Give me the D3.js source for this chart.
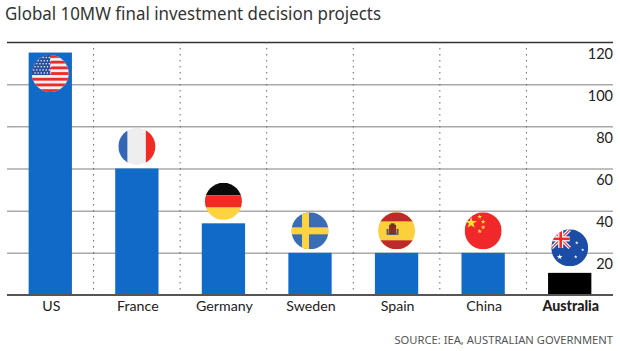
<!DOCTYPE html>
<html>
<head>
<meta charset="utf-8">
<script src="https://cdn.jsdelivr.net/npm/d3@7"></script>
<style>
  html, body { margin: 0; padding: 0; background: #fff; }
  svg { display: block; font-family: "Noto Sans", sans-serif; }
</style>
</head>
<body>
<div class="canvas"></div>
<script>
// chart values
const categories = ["US", "France", "Germany", "Sweden", "Spain", "China", "Australia"];
const values = [115, 60, 34, 20, 20, 20, 10.5];
const yTicks = [20, 40, 60, 80, 100, 120];
const flagNames = ["us", "fr", "de", "se", "es", "cn", "au"];

const width = 620, height = 351;
const margin = {top: 42, right: 613, bottom: 295, left: 7};

const svg = d3.select(".canvas").append("svg")
    .attr("width", width)
    .attr("height", height);

const x = d3.scaleBand()
    .domain(categories)
    .range([margin.left, margin.right])
    .paddingInner(0.5)
    .paddingOuter(0.25);
const y = d3.scaleLinear().domain([0, 120]).range([margin.bottom, margin.top]);

// title
svg.append("text")
    .attr("x", 5).attr("y", 20)
    .attr("font-size", 18.6)
    .attr("fill", "#333")
    .attr("textLength", 376)
    .attr("lengthAdjust", "spacingAndGlyphs")
    .text("Global 10MW final investment decision projects");

// horizontal grid + labels
const yAxis = svg.append("g")
    .attr("transform", `translate(${margin.right},0)`)
    .call(d3.axisLeft(y).tickValues(yTicks).tickSize(margin.right - margin.left));
yAxis.select(".domain").remove();
yAxis.selectAll("line")
    .attr("stroke", d => d === 120 ? "#333" : "#aaa")
    .attr("stroke-width", 1.5);
yAxis.selectAll("text")
    .attr("x", 0)
    .attr("dy", 16)
    .attr("text-anchor", "end")
    .attr("font-family", "Lato, sans-serif")
    .attr("font-size", 14.5)
    .attr("fill", "#222");

// dotted separators between the columns
const step = x.step();
svg.selectAll(".sep")
    .data(categories.slice(1))
    .enter()
    .append("line")
    .attr("class", "sep")
    .attr("x1", d => x(d) - step * 0.25)
    .attr("x2", d => x(d) - step * 0.25)
    .attr("y1", margin.top)
    .attr("y2", margin.bottom)
    .attr("stroke", "#666")
    .attr("stroke-width", 1)
    .attr("stroke-dasharray", "1.5,4.5");

// bars
svg.selectAll(".bar")
    .data(categories)
    .enter()
    .append("rect")
    .attr("class", "bar")
    .attr("x", d => x(d))
    .attr("width", x.bandwidth())
    .attr("y", (d, i) => y(values[i]))
    .attr("height", (d, i) => y(0) - y(values[i]))
    .attr("fill", d => d === "Australia" ? "#000" : "#116ac7");

// x axis
const xAxis = svg.append("g")
    .attr("transform", `translate(0,${margin.bottom})`)
    .call(d3.axisBottom(x).tickSize(0).tickPadding(6));
xAxis.select(".domain")
    .attr("d", `M${margin.left},0H${margin.right}`)
    .attr("stroke", "#555")
    .attr("stroke-width", 2);
xAxis.selectAll("text")
    .attr("dx", 1)
    .attr("font-family", "Lato, sans-serif")
    .attr("font-size", 14.2)
    .attr("fill", "#222")
    .attr("font-weight", d => d === "Australia" ? "900" : "normal");

// source
svg.append("text")
    .attr("x", margin.right).attr("y", 344)
    .attr("text-anchor", "end")
    .attr("font-size", 11.2)
    .attr("fill", "#555")
    .text("SOURCE: IEA, AUSTRALIAN GOVERNMENT");

// flags
const R = 18.5;
const defs = svg.append("defs");
defs.append("clipPath").attr("id", "disc")
    .append("circle").attr("r", R);

const star = (g, cx, cy, area, fill) => g.append("path")
    .attr("d", d3.symbol(d3.symbolStar, area))
    .attr("transform", `translate(${cx},${cy})`)
    .attr("fill", fill);
const band = (g, x0, y0, w, h, fill) => g.append("rect")
    .attr("x", x0).attr("y", y0).attr("width", w).attr("height", h).attr("fill", fill);

const drawFlag = {
  us(g) {
    band(g, -R, -R, 2 * R, 2 * R, "#f0f0f0");
    d3.range(0, 13, 2).forEach(i => band(g, -R, -R + i * 2 * R / 13, 2 * R, 2 * R / 13, "#ee2b2b"));
    band(g, -R, -R, R, 20, "#2a4f9c");
    d3.range(6).forEach(r => d3.range(6).forEach(c =>
      g.append("circle").attr("cx", -R + 2 + c * 3.1 + (r % 2) * 1.2).attr("cy", -R + 2.5 + r * 3.1)
        .attr("r", 0.75).attr("fill", "#fff")));
  },
  fr(g) {
    band(g, -R, -R, 2 * R, 2 * R, "#eeeeee");
    band(g, -R, -R, 9, 2 * R, "#3366b4");
    band(g, 9, -R, 10, 2 * R, "#f22a24");
  },
  de(g) {
    band(g, -R, -R, 2 * R, 12.5, "#0a0a0a");
    band(g, -R, -6, 2 * R, 12.5, "#f22a24");
    band(g, -R, 6, 2 * R, 13, "#fed340");
  },
  se(g) {
    band(g, -R, -R, 2 * R, 2 * R, "#3a6db5");
    band(g, -R, -3.5, 2 * R, 7, "#fed340");
    band(g, -8, -R, 7, 2 * R, "#fed340");
  },
  es(g) {
    band(g, -R, -R, 2 * R, 2 * R, "#fbd03c");
    band(g, -R, -R, 2 * R, 9, "#be2a2c");
    band(g, -R, 9.5, 2 * R, 9, "#be2a2c");
    band(g, -7.5, -6, 7, 9, "#8f2a24");
    band(g, -6, -7.5, 4, 3, "#5a3a20");
    band(g, -10, -2, 2, 6, "#5b5b5b");
    band(g, 0, -2, 2, 6, "#5b5b5b");
    band(g, -8, 2, 8, 2, "#2f4a80");
  },
  cn(g) {
    band(g, -R, -R, 2 * R, 2 * R, "#f0282a");
    star(g, -12, -8, 42, "#fde03a");
    star(g, -3.5, -14, 7, "#fde03a");
    star(g, 0, -9, 7, "#fde03a");
    star(g, 0, -3.5, 7, "#fde03a");
    star(g, -3.5, 0.5, 7, "#fde03a");
  },
  au(g) {
    band(g, -R, -R, 2 * R, 2 * R, "#1c4da6");
    g.append("path").attr("d", "M-18,-18L0,0M0,-18L-18,0").attr("stroke", "#fff").attr("stroke-width", 3.5);
    g.append("path").attr("d", "M-18,-18L0,0M0,-18L-18,0").attr("stroke", "#ee2b2b").attr("stroke-width", 1.3);
    band(g, -R, -11.5, R, 5, "#fff");
    band(g, -11.5, -R, 5, R, "#fff");
    band(g, -R, -10.3, R, 2.6, "#ee2b2b");
    band(g, -10.3, -R, 2.6, R, "#ee2b2b");
    star(g, -10, 9, 10, "#fff");
    star(g, 7, -5, 4, "#fff");
    star(g, 13, 2, 3, "#fff");
    star(g, 6, 9, 4, "#fff");
  }
};

// the US flag sits inside its bar, the others float just above
const flagGap = d => d === "US" ? -21 : d === "Australia" ? 25 : 22;

categories.forEach((d, i) => {
  const g = svg.append("g")
      .attr("transform", `translate(${x(d) + x.bandwidth() / 2},${y(values[i]) - flagGap(d)})`);
  const inner = g.append("g").attr("clip-path", "url(#disc)");
  drawFlag[flagNames[i]](inner);
});
</script>
</body>
</html>
